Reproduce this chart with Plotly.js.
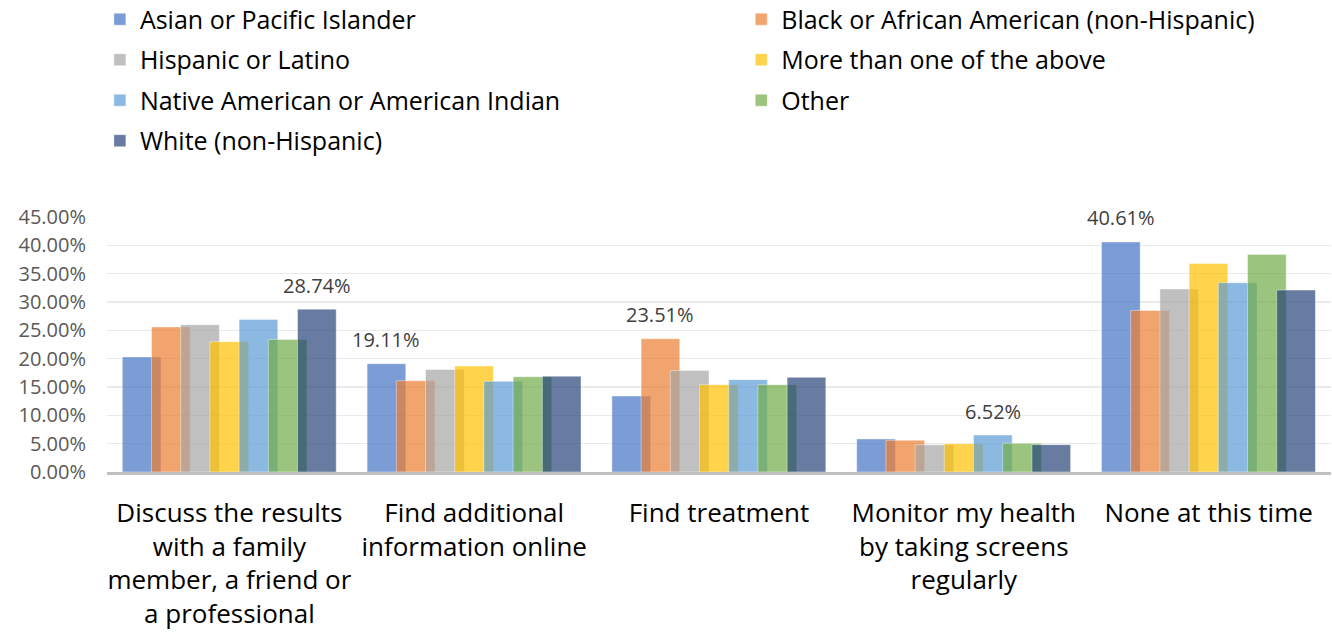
<!DOCTYPE html>
<html><head><meta charset="utf-8">
<script src="https://cdn.plot.ly/plotly-3.0.1.min.js"></script>
<style>body{margin:0;background:#fff}#chart{width:1332px;height:634px}</style>
</head><body><div id="chart"></div>
<script>
const categories = [
  "Discuss the results<br>with a family<br>member, a friend or<br>a professional",
  "Find additional<br>information online",
  "Find treatment",
  "Monitor my health<br>by taking screens<br>regularly",
  "None at this time"
];
const seriesNames = [
  "Asian or Pacific Islander",
  "Black or African American (non-Hispanic)",
  "Hispanic or Latino",
  "More than one of the above",
  "Native American or American Indian",
  "Other",
  "White (non-Hispanic)"
];
const asianPacific = [20.3, 19.11, 13.4, 5.83, 40.61];
const blackAfrican = [25.6, 16.1, 23.51, 5.6, 28.5];
const hispanicLatino = [26.0, 18.1, 17.9, 4.8, 32.3];
const moreThanOne = [23.0, 18.7, 15.4, 5.0, 36.8];
const nativeAmerican = [26.9, 16.0, 16.3, 6.52, 33.4];
const other = [23.4, 16.8, 15.4, 5.07, 38.4];
const whiteNonHispanic = [28.74, 16.9, 16.7, 4.83, 32.1];
const yTickVals = [0, 5, 10, 15, 20, 25, 30, 35, 40, 45];

const seriesValues = [asianPacific, blackAfrican, hispanicLatino, moreThanOne, nativeAmerican, other, whiteNonHispanic];
const colors = [
  "rgba(68,114,196,0.7)", "rgba(237,125,49,0.7)", "rgba(165,165,165,0.7)",
  "rgba(255,192,0,0.7)", "rgba(91,155,213,0.7)", "rgba(112,173,71,0.7)",
  "rgba(38,68,120,0.7)"
];
const legendOf = ["legend", "legend2", "legend", "legend2", "legend", "legend2", "legend"];

const barWidth = 0.158, step = 0.1193, start = -0.4375;
const traces = seriesNames.map((name, i) => ({
  type: "bar",
  name: name,
  x: categories,
  y: seriesValues[i],
  offset: start + i * step,
  width: barWidth,
  marker: {color: colors[i], line: {width: 0.8, color: "rgba(255,255,255,0.5)"}},
  legend: legendOf[i],
  legendgroup: "g" + i,
  hoverinfo: "skip"
}));

// Label the highest value in each category
const annotations = categories.map((c, ci) => {
  let best = 0;
  seriesValues.forEach((vals, si) => { if (vals[ci] > seriesValues[best][ci]) best = si; });
  const v = seriesValues[best][ci];
  return {
    x: ci + start + best * step + barWidth / 2,
    y: v, xref: "x", yref: "y",
    text: v.toFixed(2) + "%",
    showarrow: false, yanchor: "middle", yshift: 24,
    font: {family: "Open Sans, sans-serif", size: 20, color: "#404040"}
  };
});

const legendFont = {family: "Open Sans, sans-serif", size: 25, color: "#000"};
const layout = {
  width: 1332, height: 634,
  margin: {l: 107, r: 1, t: 217, b: 162, autoexpand: false},
  paper_bgcolor: "#fff", plot_bgcolor: "#fff",
  barmode: "overlay",
  showlegend: true,
  legend: {xref: "container", yref: "paper", x: 0.075, y: 1.865, xanchor: "left", yanchor: "top",
    orientation: "v", font: legendFont, tracegroupgap: 5, bgcolor: "rgba(0,0,0,0)"},
  legend2: {xref: "container", yref: "paper", x: 0.5565, y: 1.865, xanchor: "left", yanchor: "top",
    orientation: "v", font: legendFont, tracegroupgap: 5, bgcolor: "rgba(0,0,0,0)"},
  xaxis: {
    type: "category", showgrid: false, showline: true, linecolor: "#BFBFBF", linewidth: 2.5,
    ticks: "", ticklabelstandoff: 16, tickangle: 0, automargin: false,
    tickfont: {family: "Open Sans, sans-serif", size: 26, color: "#000"},
    range: [-0.5, 4.5]
  },
  yaxis: {
    range: [0, 45], tickvals: yTickVals, automargin: false,
    ticktext: yTickVals.map(v => v.toFixed(2) + "%"),
    showgrid: true, gridcolor: "#EAEAEA", gridwidth: 1.5, zeroline: false, showline: false,
    ticks: "", ticklabelstandoff: 20,
    tickfont: {family: "Open Sans, sans-serif", size: 20, color: "#595959"}
  },
  annotations: annotations
};
Plotly.newPlot("chart", traces, layout, {displayModeBar: false, staticPlot: true});
</script>
</body></html>
